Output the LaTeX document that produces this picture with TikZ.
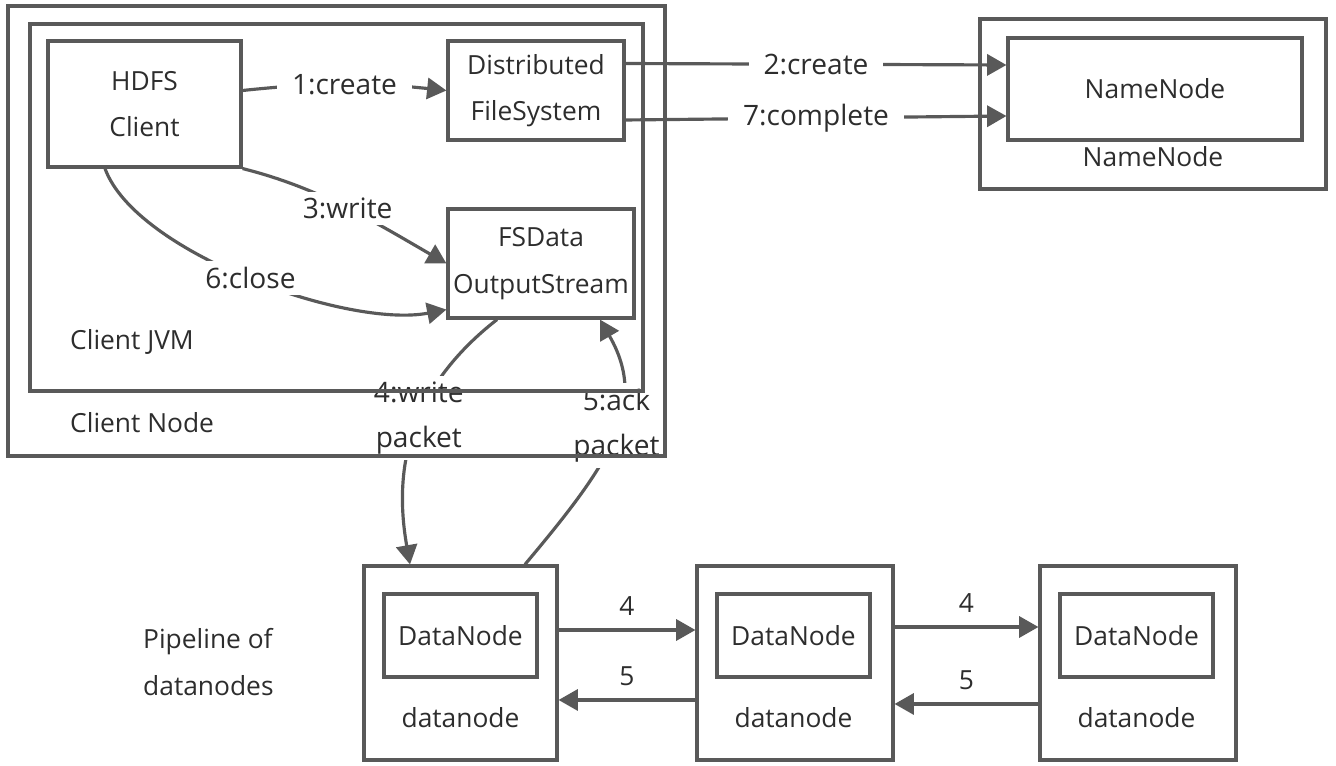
\documentclass[tikz,border=0pt]{standalone}
\usepackage{fontspec}
\setmainfont{Open Sans}
\usetikzlibrary{arrows.meta}
\definecolor{linegray}{RGB}{89,89,89}
\definecolor{textgray}{RGB}{45,45,45}

\begin{document}
\begin{tikzpicture}[x=0.02cm,y=0.02cm,text=textgray,
		font=\fontsize{15}{26.5}\selectfont,
		>={Triangle[length=11pt,width=12pt]}]
	\useasboundingbox (0,0) rectangle (1336,-766);

	\begin{scope}[every node/.style={draw=linegray,line width=1.8pt,align=center,inner sep=0pt}]
		\node[minimum width=3.86cm,minimum height=2.52cm] (hdfs) at (144.5,-104) {HDFS\\Client};
		\node[minimum width=3.52cm,minimum height=1.98cm] (dfs) at (536,-90.5) {Distributed\\FileSystem};
		\node[minimum width=3.72cm,minimum height=2.18cm] (fsdos) at (541,-263.5) {FSData\\OutputStream};
		\node[minimum width=6.92cm,minimum height=3.4cm] (nnhost) at (1153,-104) {};
		\node[minimum width=5.88cm,minimum height=2.04cm] (nnbox) at (1155,-89) {NameNode};
		\node[minimum width=3.86cm,minimum height=3.88cm] (dn1) at (460.5,-663) {};
		\node[minimum width=3.92cm,minimum height=3.88cm] (dn2) at (795,-663) {};
		\node[minimum width=3.92cm,minimum height=3.88cm] (dn3) at (1138,-663) {};
		\node[minimum width=3.06cm,minimum height=1.66cm] (dnbox1) at (460.5,-635.5) {DataNode};
		\node[minimum width=3.06cm,minimum height=1.66cm] (dnbox2) at (793.5,-635.5) {DataNode};
		\node[minimum width=3.06cm,minimum height=1.66cm] (dnbox3) at (1136.5,-635.5) {DataNode};
	\end{scope}

	\node[anchor=west] (jvmlabel) at (64,-342) {Client JVM};
	\node[anchor=west] (nodelabel) at (64,-423) {Client Node};
	\node (nnlabel) at (1153,-157) {NameNode};
	\node (dnlabel1) at (460.5,-718) {datanode};
	\node (dnlabel2) at (793.5,-718) {datanode};
	\node (dnlabel3) at (1136.5,-718) {datanode};
	\node[anchor=west,align=left] (pipeline) at (137,-662) {Pipeline of\\datanodes};

	\begin{scope}[every edge/.style={draw=linegray,line width=1.8pt},
			lbl/.style={fill=white,inner xsep=0.3cm,align=center,font=\fontsize{16}{25.5}\selectfont}]
		\path [->] (hdfs.east |- dfs.west) edge [bend left=6] node [lbl] {1:create} (dfs.west);
		\path [->] ([yshift=0.54cm]dfs.east) edge node [lbl] {2:create} ([yshift=0.48cm]nnbox.west);
		\path [->] ([yshift=-0.59cm]dfs.east) edge node [lbl] {7:complete} ([yshift=-0.54cm]nnbox.west);
		\path [->] (hdfs.south east) edge [out=-14,in=150,distance=1.6cm] node [lbl] {3:write} (fsdos.west);
		\path [->] ([xshift=-0.79cm]hdfs.south) edge [out=-70,in=191,out distance=1.8cm,in distance=2cm]
			node [lbl] {6:close} ([yshift=0.2cm]fsdos.south west);
		\path [->] ([xshift=-0.88cm]fsdos.south) edge [out=218,in=100,out distance=2.2cm,in distance=2cm]
			node [lbl,pos=0.45] {4:write\\packet} ([xshift=-1.01cm]dn1.north);
		\path [->] ([xshift=1.29cm]dn1.north) edge [out=50,in=-60,out distance=2.6cm,in distance=2cm]
			node [lbl,pos=0.55] {5:ack\\packet} ([xshift=1.18cm]fsdos.south);

		\path [->] ([yshift=0.66cm]dn1.east) edge node [above=4pt] {4} ([yshift=0.66cm]dn2.west);
		\path [->] ([yshift=-0.74cm]dn2.west) edge node [above=4pt] {5} ([yshift=-0.74cm]dn1.east);
		\path [->] ([yshift=0.72cm]dn2.east) edge node [above=4pt] {4} ([yshift=0.72cm]dn3.west);
		\path [->] ([yshift=-0.82cm]dn3.west) edge node [above=4pt] {5} ([yshift=-0.82cm]dn2.east);
	\end{scope}

	% containers drawn last, over the labels
	\begin{scope}[every node/.style={draw=linegray,line width=1.8pt,inner sep=0pt}]
		\node[minimum width=13.14cm,minimum height=9cm] (clientnode) at (336.5,-231) {};
		\node[minimum width=12.26cm,minimum height=7.34cm] (jvm) at (336.5,-207.5) {};
	\end{scope}
\end{tikzpicture}
\end{document}
